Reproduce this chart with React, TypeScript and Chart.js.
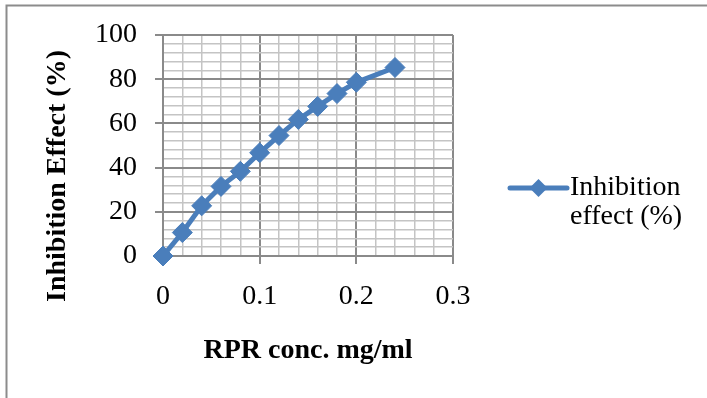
import React, { useEffect, useRef } from 'react';
import { Chart, registerables } from 'chart.js';

Chart.register(...registerables);

// ---- data ----
const concentrations: number[] = [0, 0.02, 0.04, 0.06, 0.08, 0.1, 0.12, 0.14, 0.16, 0.18, 0.2, 0.24];
const inhibitionEffect: number[] = [0, 10.6, 22.7, 31.5, 38.3, 46.7, 54.5, 61.8, 67.7, 73.5, 78.6, 85.3];
const seriesLabel: string[] = ['Inhibition', 'effect (%)'];
const xAxisTitle = 'RPR conc. mg/ml';
const yAxisTitle = 'Inhibition Effect (%)';
const xMajorTicks: number[] = [0, 0.1, 0.2, 0.3];
const yMajorTicks: number[] = [0, 20, 40, 60, 80, 100];

const SERIES_COLOR = '#4A7EBB';
const MAJOR_GRID = '#8a8a8a';
const MINOR_GRID = '#c4c4c4';
const FONT_FAMILY = '"Liberation Serif", "Times New Roman", serif';

const isMajorX = (v: number) => xMajorTicks.some((t) => Math.abs(t - v) < 1e-6);
const isMajorY = (v: number) => yMajorTicks.some((t) => Math.abs(t - v) < 1e-6);

const decorPlugin = {
  id: 'decor',
  beforeDraw(chart: any) {
    const { ctx, width, height } = chart;
    ctx.save();
    ctx.fillStyle = '#ffffff';
    ctx.fillRect(0, 0, width, height);
    ctx.strokeStyle = '#8c8c8c';
    ctx.lineWidth = 2;
    ctx.beginPath();
    ctx.moveTo(6.5, height);
    ctx.lineTo(6.5, 5.5);
    ctx.lineTo(width, 5.5);
    ctx.stroke();
    ctx.restore();
  },
  afterDraw(chart: any) {
    const { ctx, chartArea } = chart;
    ctx.save();
    // y axis title
    ctx.translate(58, chartArea.top + 141);
    ctx.rotate(-Math.PI / 2);
    ctx.font = `bold 28px ${FONT_FAMILY}`;
    ctx.fillStyle = '#000';
    ctx.textAlign = 'center';
    ctx.textBaseline = 'middle';
    ctx.fillText(yAxisTitle, 0, 0);
    ctx.restore();

    // legend
    const lx0 = chartArea.right + 57;
    const lx1 = lx0 + 57;
    const ly = chartArea.top + 153;
    ctx.save();
    ctx.strokeStyle = SERIES_COLOR;
    ctx.lineWidth = 5;
    ctx.lineCap = 'round';
    ctx.beginPath();
    ctx.moveTo(lx0, ly);
    ctx.lineTo(lx1, ly);
    ctx.stroke();
    const cx = (lx0 + lx1) / 2;
    const r = 9;
    ctx.fillStyle = SERIES_COLOR;
    ctx.beginPath();
    ctx.moveTo(cx, ly - r);
    ctx.lineTo(cx + r, ly);
    ctx.lineTo(cx, ly + r);
    ctx.lineTo(cx - r, ly);
    ctx.closePath();
    ctx.fill();
    ctx.font = `28px ${FONT_FAMILY}`;
    ctx.fillStyle = '#000';
    ctx.textAlign = 'left';
    ctx.textBaseline = 'middle';
    const labels: string[] = chart.data.datasets[0].legendLines || [];
    labels.forEach((t: string, i: number) => {
      ctx.fillText(t, lx1 + 3, ly + i * 29);
    });
    ctx.restore();
  },
};

export default function App() {
  const canvasRef = useRef<HTMLCanvasElement | null>(null);

  useEffect(() => {
    if (!canvasRef.current) return;
    const points = concentrations.map((x, i) => ({ x, y: inhibitionEffect[i] }));
    const chart = new Chart(canvasRef.current, {
      type: 'line',
      data: {
        datasets: [
          {
            label: seriesLabel.join(' '),
            legendLines: seriesLabel,
            data: points,
            borderColor: SERIES_COLOR,
            backgroundColor: SERIES_COLOR,
            borderWidth: 5,
            tension: 0,
            clip: false,
            pointStyle: 'rectRot',
            pointRadius: 10,
            pointBorderWidth: 1,
            pointBackgroundColor: SERIES_COLOR,
            pointBorderColor: SERIES_COLOR,
          } as any,
        ],
      },
      options: {
        animation: false,
        responsive: false,
        maintainAspectRatio: false,
        layout: { padding: { left: 0, top: 35, right: 254, bottom: 0 } },
        plugins: {
          legend: { display: false },
          tooltip: { enabled: false },
        },
        scales: {
          x: {
            type: 'linear',
            min: 0,
            max: 0.3,
            afterFit: (scale: any) => {
              scale.height = 142;
            },
            afterBuildTicks: (scale: any) => {
              const t = [];
              for (let i = 0; i <= 15; i++) t.push({ value: Math.round(i * 2) / 100 });
              scale.ticks = t;
            },
            ticks: {
              autoSkip: false,
              maxRotation: 0,
              padding: 16,
              color: '#000',
              font: { family: FONT_FAMILY, size: 28 },
              callback: (v: any) => (isMajorX(Number(v)) ? String(Math.round(Number(v) * 10) / 10) : ''),
            },
            grid: {
              color: (c: any) => (isMajorX(c.tick?.value ?? 0) ? MAJOR_GRID : MINOR_GRID),
              lineWidth: (c: any) => (isMajorX(c.tick?.value ?? 0) ? 2 : 1.5),
              tickColor: (c: any) => (isMajorX(c.tick?.value ?? 0) ? MAJOR_GRID : 'rgba(0,0,0,0)'),
              tickLength: 8,
              tickWidth: 2,
              drawTicks: true,
            },
            border: { display: true, color: MAJOR_GRID, width: 2 },
            title: { display: true, text: xAxisTitle, color: '#000', font: { family: FONT_FAMILY, size: 28, weight: 'bold' }, padding: { top: 0, bottom: 30 } },
          },
          y: {
            type: 'linear',
            min: 0,
            max: 100,
            afterFit: (scale: any) => {
              scale.width = 163;
            },
            afterBuildTicks: (scale: any) => {
              const t = [];
              for (let i = 0; i <= 25; i++) t.push({ value: i * 4 });
              scale.ticks = t;
            },
            ticks: {
              autoSkip: false,
              padding: 18,
              color: '#000',
              font: { family: FONT_FAMILY, size: 28 },
              callback: (v: any) => (isMajorY(Number(v)) ? String(v) : ''),
            },
            grid: {
              color: (c: any) => (isMajorY(c.tick?.value ?? 0) ? MAJOR_GRID : MINOR_GRID),
              lineWidth: (c: any) => (isMajorY(c.tick?.value ?? 0) ? 2 : 1.5),
              tickColor: (c: any) => (isMajorY(c.tick?.value ?? 0) ? MAJOR_GRID : 'rgba(0,0,0,0)'),
              tickLength: 8,
              tickWidth: 2,
              drawTicks: true,
            },
            border: { display: true, color: MAJOR_GRID, width: 2 },
          },
        },
      },
      plugins: [decorPlugin],
    } as any);
    return () => chart.destroy();
  }, []);

  return (
    <div style={{ position: 'fixed', left: 0, top: 0, width: 707, height: 398 }}>
      <canvas ref={canvasRef} width={707} height={398} style={{ width: 707, height: 398, display: 'block' }} />
    </div>
  );
}
